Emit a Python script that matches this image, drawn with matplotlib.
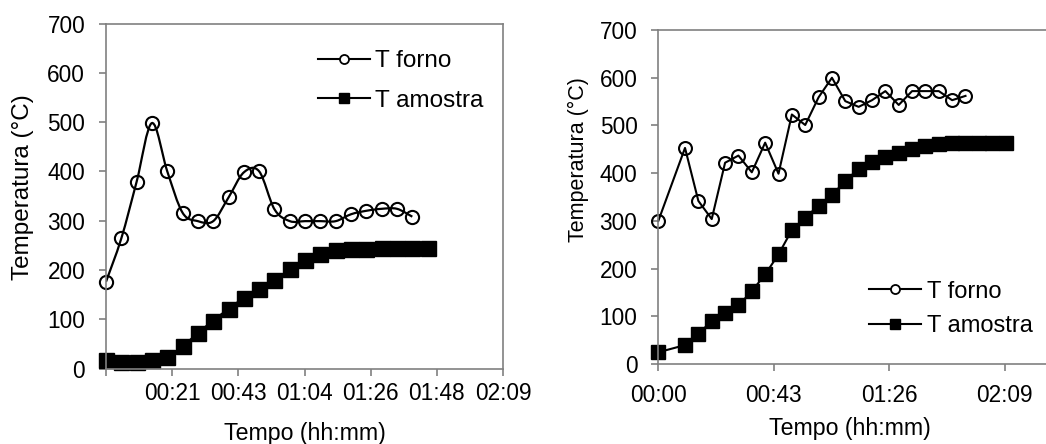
import numpy as np
import matplotlib
matplotlib.use("Agg")
import matplotlib.pyplot as plt
from matplotlib.path import Path
from matplotlib.patches import PathPatch
from matplotlib.lines import Line2D

plt.rcParams["font.family"] = ["Liberation Sans", "DejaVu Sans"]

# --- left chart (minutes, degC) ---
t_forno_a = [0, 5, 10, 15, 20, 25, 30, 35, 40, 45, 50, 55, 60, 65, 70, 75, 80, 85, 90, 95, 100]
forno_a = [176, 264, 379, 498, 400, 316, 299, 299, 347, 398, 400, 323, 299, 299, 299, 299, 313, 320, 324, 324, 308]
t_amostra_a = [0, 5, 10, 15, 20, 25, 30, 35, 40, 45, 50, 55, 60, 65, 70, 75, 80, 85, 90, 95, 100, 105]
amostra_a = [17, 14, 14, 17, 24, 45, 72, 97, 121, 143, 162, 180, 201, 220, 233, 241, 243, 243, 244, 245, 245, 245]
xticks_a = [0, 21.6, 43.2, 64.8, 86.4, 108.0, 129.6]
xlabels_a = ["", "00:21", "00:43", "01:04", "01:26", "01:48", "02:09"]

# --- right chart ---
t_forno_b = [0, 10, 15, 20, 25, 30, 35, 40, 45, 50, 55, 60, 65, 70, 75, 80, 85, 90, 95, 100, 105, 110, 115]
forno_b = [300, 453, 342, 304, 422, 437, 402, 464, 399, 523, 501, 559, 600, 551, 539, 553, 572, 543, 572, 572, 572, 553, 562]
t_amostra_b = [0, 10, 15, 20, 25, 30, 35, 40, 45, 50, 55, 60, 65, 70, 75, 80, 85, 90, 95, 100, 105, 110, 115, 120, 125, 130]
amostra_b = [25, 40, 63, 91, 107, 123, 153, 188, 230, 281, 307, 332, 354, 384, 409, 423, 434, 442, 450, 457, 462, 463, 463, 463, 463, 463]
xticks_b = [0, 43.2, 86.4, 129.6, 172.8]
xlabels_b = ["00:00", "00:43", "01:26", "02:09", ""]

W, H = 1046, 444
GRAY = "#808080"


def smooth_path(x, y):
    # excel-like smoothed line (catmull-rom as bezier)
    x = np.asarray(x, float)
    y = np.asarray(y, float)
    n = len(x)
    verts = [(x[0], y[0])]
    codes = [Path.MOVETO]
    for i in range(n - 1):
        xp, yp = (x[i - 1], y[i - 1]) if i > 0 else (x[i], y[i])
        xn, yn = (x[i + 2], y[i + 2]) if i + 2 < n else (x[i + 1], y[i + 1])
        c1 = (x[i] + (x[i + 1] - xp) / 6, y[i] + (y[i + 1] - yp) / 6)
        c2 = (x[i + 1] - (xn - x[i]) / 6, y[i + 1] - (yn - y[i]) / 6)
        verts += [c1, c2, (x[i + 1], y[i + 1])]
        codes += [Path.CURVE4] * 3
    return Path(verts, codes)


def style_axes(ax, pad_x):
    for s in ax.spines.values():
        s.set_color(GRAY)
        s.set_linewidth(1.2)
    ax.tick_params(direction="out", length=5, width=1.2, color=GRAY, labelsize=16.3)
    ax.tick_params(axis="y", pad=10)
    ax.tick_params(axis="x", pad=pad_x)
    ax.set_ylim(0, 700)
    ax.set_yticks([0, 100, 200, 300, 400, 500, 600, 700])


fig = plt.figure(figsize=(W / 100, H / 100), dpi=100)

def px_axes(x0, x1, y0, y1):
    return fig.add_axes([x0 / W, 1 - y1 / H, (x1 - x0) / W, (y1 - y0) / H])

# left
ax1 = px_axes(106, 503, 23.5, 368.5)
style_axes(ax1, 5)
ax1.set_xlim(0, 129.6)
ax1.set_xticks(xticks_a)
ax1.set_xticklabels(xlabels_a)
ax1.add_patch(PathPatch(smooth_path(t_forno_a, forno_a), fill=False, ec="black", lw=1.6))
ax1.add_patch(PathPatch(smooth_path(t_amostra_a, amostra_a), fill=False, ec="black", lw=1.6))
ax1.plot(t_forno_a, forno_a, ls="none", marker="o", ms=9.5, mfc="none", mec="black", mew=1.5, clip_on=False)
ax1.plot(t_amostra_a, amostra_a, ls="none", marker="s", ms=10.8, mfc="black", mec="black", clip_on=False)
ax1.set_xlabel("Tempo (hh:mm)", fontsize=16.7, va="center")
ax1.xaxis.set_label_coords(0.5, -0.187)
ax1.set_ylabel("Temperatura (°C)", fontsize=17.5, va="center")
ax1.yaxis.set_label_coords(-0.208, 0.527)

# right
ax2 = px_axes(658.3, 658.3 + 4 * 115.4, 30, 364.2)
style_axes(ax2, 9)
ax2.set_xlim(0, 172.8)
ax2.set_xticks(xticks_b)
ax2.set_xticklabels(xlabels_b)
ax2.plot(t_forno_b, forno_b, "-", color="black", lw=1.5, marker="o", ms=9.3, mfc="none", mec="black", mew=1.5, clip_on=False)
ax2.plot(t_amostra_b, amostra_b, "-", color="black", lw=1.5, marker="s", ms=10.3, mfc="black", mec="black", clip_on=False)
ax2.set_xlabel("Tempo (hh:mm)", fontsize=16.7, va="center")
ax2.xaxis.set_label_coords(0.415, -0.191)
ax2.set_ylabel("Temperatura (°C)", fontsize=15.5, va="center")
ax2.yaxis.set_label_coords(-0.174, 0.611)

handles = [
    Line2D([], [], color="black", lw=1.5, marker="o", ms=6.5, mfc="white", mec="black", mew=1.3),
    Line2D([], [], color="black", lw=1.5, marker="s", ms=7, mfc="black", mec="black"),
]
labels = ["T forno", "T amostra"]
fig.legend(handles, labels, loc="upper left", bbox_to_anchor=(318 / W, 1 - 50 / H),
           frameon=False, fontsize=17.5, handlelength=2.15, handletextpad=0.2,
           labelspacing=0.72, borderpad=0, borderaxespad=0)
fig.legend(handles, labels, loc="upper left", bbox_to_anchor=(869 / W, 1 - 280.5 / H),
           frameon=False, fontsize=17, handlelength=2.2, handletextpad=0.25,
           labelspacing=0.52, borderpad=0, borderaxespad=0)

fig.savefig("out.png", dpi=100)
